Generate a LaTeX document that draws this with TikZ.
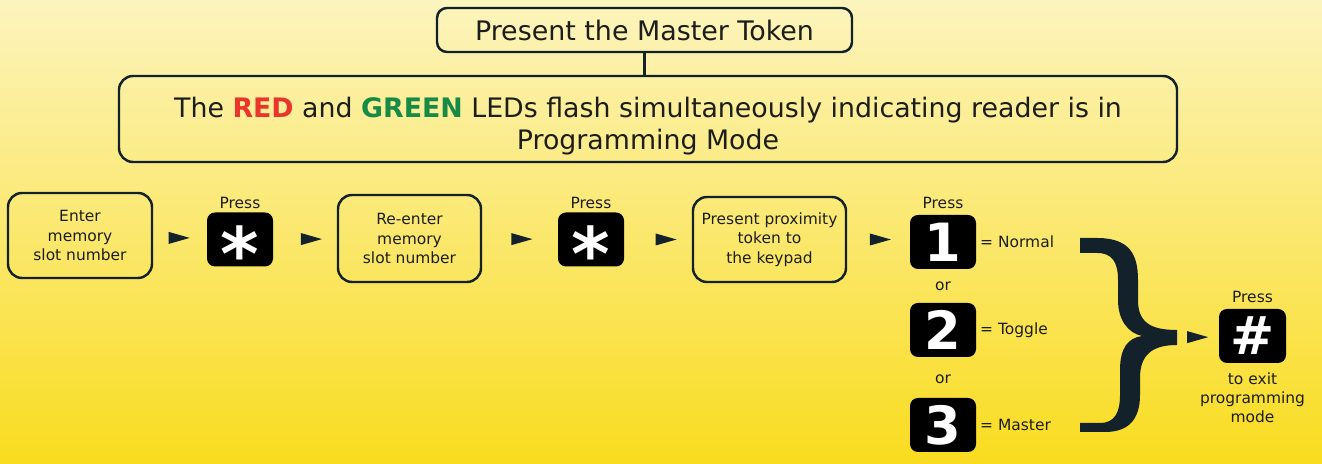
\documentclass[tikz,border=0pt]{standalone}
\usepackage{fontspec}
\setmainfont{DejaVu Sans}
\usetikzlibrary{positioning,shapes.geometric,calc}
\definecolor{inkdark}{HTML}{13222A}
\definecolor{textdark}{HTML}{1D1D1B}
\definecolor{ledred}{HTML}{E8362D}
\definecolor{ledgreen}{HTML}{178A45}
\definecolor{bgtop}{HTML}{FCF4BE}
\definecolor{bgbottom}{HTML}{F9DC1F}
\tikzset{
    keypadflow/.style={
        % Boxes with rounded corners
        stepbox/.style={draw=inkdark, line width=1.4pt, rounded corners=0.28cm,
                        align=center, text=textdark, inner sep=2pt,
                        font=\fontsize{8.8}{11}\selectfont},
        % Black keys
        keycap/.style={fill=black, rounded corners=0.16cm, inner sep=0pt,
                       minimum width=1.32cm, minimum height=1.08cm, text=white,
                       font=\bfseries\fontsize{30}{30}\selectfont},
        % Small labels
        caption/.style={align=center, text=textdark, inner sep=2pt,
                        font=\fontsize{8.8}{11}\selectfont},
        % Triangle pointers
        pointer/.style={isosceles triangle, isosceles triangle stretches,
                        fill=inkdark, inner sep=0pt, xshift=-0.08cm,
                        minimum width=0.24cm, minimum height=0.42cm}
    }
}
\newcommand{\starglyph}{\fontsize{42}{42}\selectfont\raisebox{-0.55em}[0pt][0pt]{*}}

\begin{document}
\begin{tikzpicture}[keypadflow]
    % Background
    \useasboundingbox (0,0) rectangle (26.44,9.28);
    \fill[top color=bgtop, bottom color=bgbottom] (0,0) rectangle (26.44,9.28);

    % Top boxes
    \node[stepbox, rounded corners=0.2cm, minimum width=8.3cm, minimum height=0.88cm,
          font=\fontsize{15.3}{18}\selectfont] (master) at (12.89,8.68) {Present the Master Token};
    \node[stepbox, minimum width=21.16cm, minimum height=1.72cm] (leds) at (12.96,6.90) {};
    \node[caption, font=\fontsize{15.25}{18.2}\selectfont] (ledstext) at (12.96,6.76)
        {The \textcolor{ledred}{\bfseries RED} and \textcolor{ledgreen}{\bfseries GREEN} LEDs flash simultaneously indicating reader is in\\Programming Mode};
    \draw[inkdark, line width=1.4pt] (master.south) -- (master.south |- leds.north);

    % Steps
    \node[stepbox, minimum width=2.88cm, minimum height=1.70cm] (enter) at (1.6,4.57) {Enter\\memory\\slot number};
    \node[keycap] (star1) at (4.8,4.49) {\starglyph};
    \node[stepbox, minimum width=2.86cm, minimum height=1.74cm] (reenter) at (8.19,4.51) {Re-enter\\memory\\slot number};
    \node[keycap] (star2) at (11.82,4.49) {\starglyph};
    \node[stepbox, minimum width=3.06cm, minimum height=1.70cm] (present) at (15.39,4.49) {Present proximity\\token to\\the keypad};

    % Mode keys
    \node[keycap] (key1) at (18.86,4.44) {1};
    \node[keycap] (key2) at (18.86,2.68) {2};
    \node[keycap] (key3) at (18.86,0.78) {3};
    \node[keycap, minimum width=1.34cm] (hash) at (25.05,2.56) {\#};

    % Labels
    \node[caption, above=0pt of star1] (press1) {Press};
    \node[caption, above=0pt of star2] (press2) {Press};
    \node[caption, above=1pt of key1] (press3) {Press};
    \node[caption, above=1pt of hash] (press4) {Press};
    \node[caption, right=0pt of key1] (normal) {= Normal};
    \node[caption, right=0pt of key2] (toggle) {= Toggle};
    \node[caption, right=0pt of key3] (mastermode) {= Master};
    \path (key1) -- (key2) node[caption, pos=0.52] (or1) {or};
    \path (key2) -- (key3) node[caption, pos=0.55] (or2) {or};
    \node[caption, below=3pt of hash] (exit) {to exit\\programming\\mode};

    % Brace
    \fill[inkdark] (21.6,4.52) -- (21.94,4.52) .. controls (22.6,4.52) and (22.76,4.18) .. (22.76,3.68)
        -- (22.76,3.28) .. controls (22.76,2.84) and (23.0,2.68) .. (23.54,2.68)
        -- (23.54,2.38) .. controls (23.04,2.38) and (22.8,2.18) .. (22.8,1.72)
        -- (22.8,1.38) .. controls (22.8,0.88) and (22.56,0.64) .. (22.1,0.64)
        -- (21.6,0.64) -- (21.6,0.82) -- (22.0,0.82) .. controls (22.3,0.82) and (22.4,1.04) .. (22.4,1.38)
        -- (22.4,1.88) .. controls (22.4,2.32) and (22.56,2.52) .. (22.84,2.56)
        .. controls (22.56,2.62) and (22.36,2.88) .. (22.36,3.28)
        -- (22.36,3.68) .. controls (22.36,4.04) and (22.24,4.22) .. (21.94,4.22)
        -- (21.6,4.22) -- cycle;
    \coordinate (bracetip) at (23.54,2.53);

    % Pointers
    \path (enter) -- (star1) node[pointer, pos=0.45] {};
    \path (star1) -- (reenter) node[pointer, pos=0.57] {};
    \path (reenter) -- (star2) node[pointer, midway] {};
    \path (star2) -- (present) node[pointer, pos=0.59] {};
    \path (present.east) -- (key1.west |- present.east) node[pointer, midway] {};
    \path (bracetip) -- (hash) node[pointer, pos=0.45] {};
\end{tikzpicture}
\end{document}
